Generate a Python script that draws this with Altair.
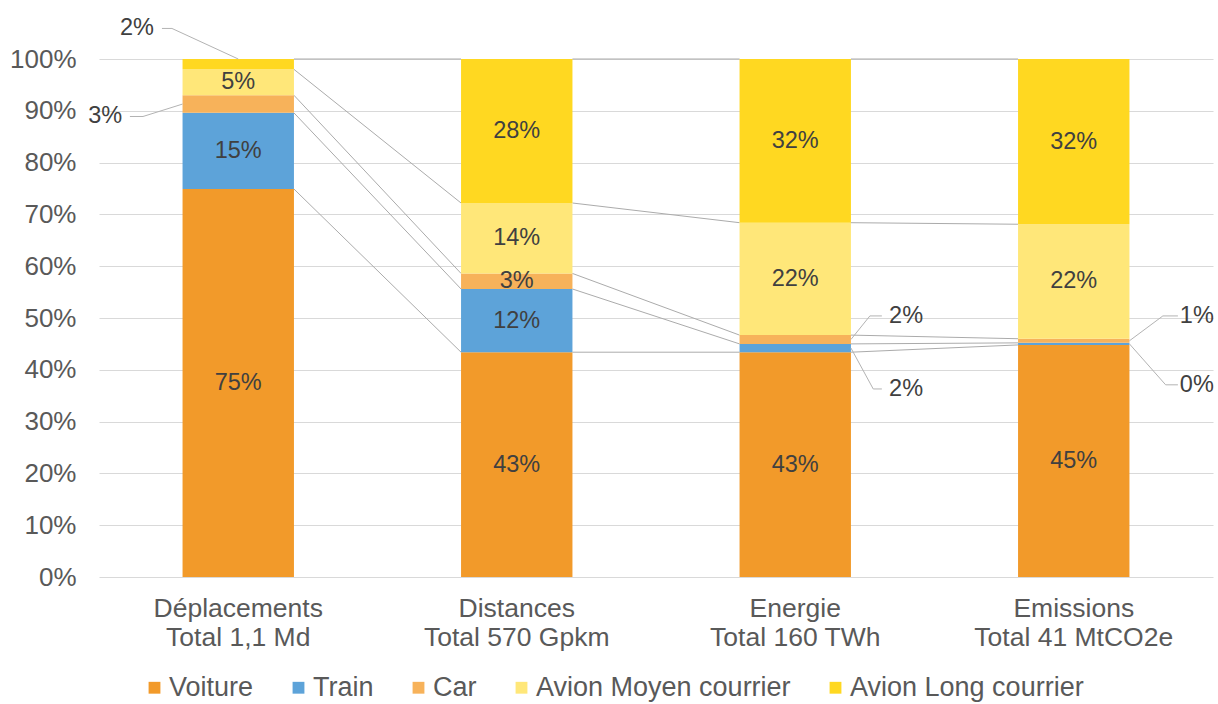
import altair as alt
import pandas as pd

# ---------------- data ----------------
categories = ["Déplacements", "Distances", "Energie", "Emissions"]
totals = ["Total 1,1 Md", "Total 570 Gpkm", "Total 160 TWh", "Total 41 MtCO2e"]
series = ["Voiture", "Train", "Car", "Avion Moyen courrier", "Avion Long courrier"]
colors = ["#F29A2A", "#5DA3D9", "#F7B25A", "#FFE779", "#FFD821"]

voiture = [74.9, 43.4, 43.4, 44.8]
train = [14.7, 12.2, 1.6, 0.4]
car = [3.4, 3.0, 1.7, 0.8]
avion_moyen = [5.0, 13.6, 21.7, 22.1]
avion_long = [2.0, 27.8, 31.6, 31.9]
values = [voiture, train, car, avion_moyen, avion_long]

# labels placed outside of the bars (category index, series)
out_cat = [0, 0, 2, 2, 3, 3]
out_series = ["Avion Long courrier", "Car", "Car", "Train", "Car", "Train"]
out_anchor = ["top", "left", "right", "right", "right", "right"]
out_text_x = [0.136, 0.022, 2.898, 2.898, 3.942, 3.942]
out_text_y = [105.9, 88.9, 50.4, 36.3, 50.4, 37.1]
out_elbow_x = [0.262, 0.158, 2.768, 2.780, 3.820, 3.830]
out_end_x = [0.226, 0.111, 2.811, 2.811, 3.874, 3.874]

PAD = 0.3  # outer band padding (bar edges at i+PAD, i+1-PAD on a 0..4 linear scale)

cat_labels = [f"{c}\n{t}" for c, t in zip(categories, totals)]

rows = []
for i, cl in enumerate(cat_labels):
    base = 0.0
    for k, (s, vals) in enumerate(zip(series, values)):
        v = vals[i]
        rows.append(dict(cat=cl, idx=i, series=s, order=k, y0=base, y1=base + v,
                         mid=base + v / 2, label=f"{round(v):.0f}%"))
        base += v
df = pd.DataFrame(rows)

outside_keys = set(zip(out_cat, out_series))
df["inside"] = [(r.idx, r.series) not in outside_keys for r in df.itertuples()]
inside_df = df[df["inside"]]

# series lines between bars
sl_rows = []
for i in range(len(categories) - 1):
    for s in series:
        a = df[(df.idx == i) & (df.series == s)].iloc[0]
        b = df[(df.idx == i + 1) & (df.series == s)].iloc[0]
        sl_rows.append(dict(x=i + 1 - PAD, x2=i + 1 + PAD, y=a.y1, y2=b.y1))
sl_df = pd.DataFrame(sl_rows)

# leader lines + outside labels
ld_rows, ot_rows = [], []
for n in range(len(out_cat)):
    i, s = out_cat[n], out_series[n]
    seg = df[(df.idx == i) & (df.series == s)].iloc[0]
    if out_anchor[n] == "top":
        ax, ay = i + 0.5, seg.y1
    elif out_anchor[n] == "left":
        ax, ay = i + PAD, seg.mid
    else:
        ax, ay = i + 1 - PAD, seg.mid
    ly = out_text_y[n]
    pts = [(out_end_x[n], ly), (out_elbow_x[n], ly), (ax, ay)]
    for k, (px, py) in enumerate(pts):
        ld_rows.append(dict(id=n, k=k, x=px, y=py))
    ot_rows.append(dict(x=out_text_x[n], y=ly, label=seg.label))
ld_df = pd.DataFrame(ld_rows)
ot_df = pd.DataFrame(ot_rows)

# ---------------- chart ----------------
FONT = "Liberation Sans"
W, H = 1114, 518

yscale = alt.Scale(domain=[0, 100], nice=False)
yaxis = alt.Axis(values=list(range(0, 101, 10)), labelExpr="datum.value + '%'",
                 grid=True, gridColor="#d9d9d9", gridWidth=1, domain=False, ticks=False,
                 tickSize=0, labelFontSize=26, labelColor="#595959", labelPadding=23,
                 labelFont=FONT, title=None)
band = alt.Scale(domain=cat_labels, paddingInner=0.6, paddingOuter=PAD)
lin = alt.Scale(domain=[0, 4], nice=False, zero=False)

xaxis = alt.Axis(labelExpr="split(datum.label, '\\n')", labelAngle=0, domain=False,
                 ticks=False, tickSize=0, grid=False, labelFontSize=26.5, labelColor="#595959",
                 labelFont=FONT, labelPadding=18, labelLineHeight=29, labelBaseline="top",
                 labelLimit=400, title=None)

series_lines = alt.Chart(sl_df).mark_rule(color="#ababab", strokeWidth=1).encode(
    x=alt.X("x:Q", scale=lin, axis=None),
    x2="x2:Q",
    y=alt.Y("y:Q", scale=yscale, axis=yaxis),
    y2="y2:Q",
)

bars = alt.Chart(df).mark_bar().encode(
    x=alt.X("cat:N", scale=band, axis=xaxis, sort=cat_labels),
    y=alt.Y("y0:Q", scale=yscale, axis=yaxis),
    y2="y1:Q",
    color=alt.Color("series:N", scale=alt.Scale(domain=series, range=colors),
                    legend=alt.Legend(title=None, orient="none", legendX=42, legendY=615,
                                      direction="horizontal", symbolType="square",
                                      symbolSize=140, symbolStrokeWidth=0,
                                      labelFontSize=27, labelColor="#595959", labelFont=FONT,
                                      labelOffset=1, columnPadding=31, labelLimit=400,
                                      padding=0)),
    order=alt.Order("order:Q"),
)

inside_text = alt.Chart(inside_df).mark_text(
    fontSize=23.5, color="#404040", font=FONT, baseline="middle", align="center"
).encode(
    x=alt.X("cat:N", scale=band, axis=None, sort=cat_labels),
    y=alt.Y("mid:Q", scale=yscale, axis=yaxis),
    text="label:N",
)

leaders = alt.Chart(ld_df).mark_line(color="#b3b3b3", strokeWidth=1).encode(
    x=alt.X("x:Q", scale=lin, axis=None),
    y=alt.Y("y:Q", scale=yscale, axis=yaxis),
    detail="id:N",
    order="k:Q",
)

outside_text = alt.Chart(ot_df).mark_text(
    fontSize=23.5, color="#404040", font=FONT, baseline="middle", align="center"
).encode(
    x=alt.X("x:Q", scale=lin, axis=None),
    y=alt.Y("y:Q", scale=yscale, axis=yaxis),
    text="label:N",
)

chart = alt.layer(series_lines, bars, inside_text, leaders, outside_text).resolve_scale(
    x="independent"
).properties(
    width=W, height=H,
    autosize=alt.AutoSizeParams(type="none"),
    padding={"left": 99, "top": 59, "right": 5, "bottom": 127},
    background="white",
).configure_view(stroke=None)

chart.save("out.html", embed_options={"renderer": "svg", "actions": False})
